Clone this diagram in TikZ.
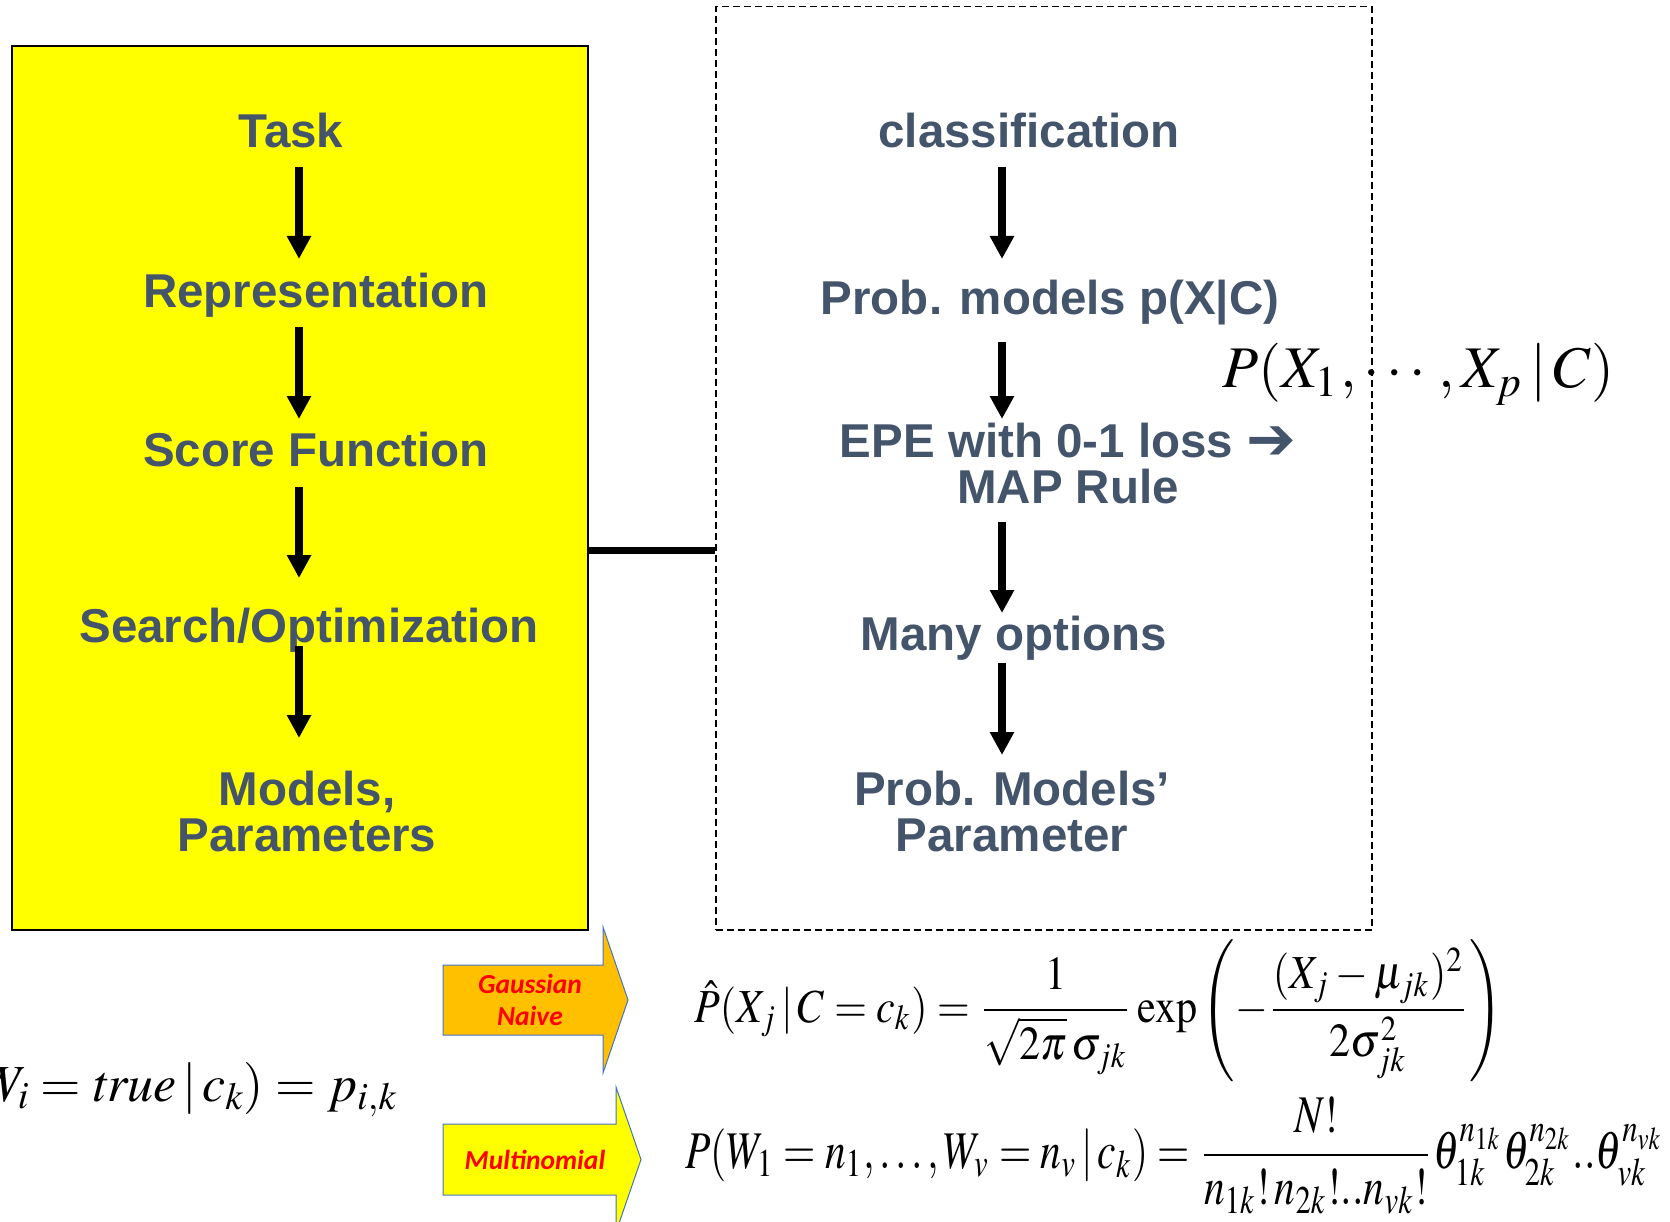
\documentclass[tikz,border=0pt]{standalone}
\usepackage{amsmath}
\usepackage{mathptmx}
\usepackage{fontspec}
\usepackage{tikz}
\usetikzlibrary{arrows.meta}
\newfontfamily\slidefont{Liberation Sans}
\newfontfamily\tagfont{Carlito}
\newfontfamily\dingfont{DejaVu Sans}
\definecolor{slateCol}{RGB}{68,84,106}
\definecolor{boxYel}{RGB}{255,255,0}
\definecolor{gaussCol}{RGB}{255,192,0}
\definecolor{edgeCol}{RGB}{68,114,196}
\definecolor{tagRed}{RGB}{255,0,0}
\tikzset{
  item/.style={font=\slidefont\bfseries\fontsize{47.5}{45.5}\selectfont,
               text=slateCol,inner sep=0pt,anchor=north},
  oneline/.style={item,text height=34pt,text depth=10pt},
  twoline/.style={item,align=center},
  flow/.style={-{Triangle[length=23pt,width=23pt]},line width=8pt},
  link/.style={line width=7pt},
  fat/.style={draw=edgeCol,line width=1pt,line join=miter},
  tag/.style={font=\tagfont\bfseries\itshape\fontsize{27.5}{32}\selectfont,
              text=tagRed,align=center,inner sep=0pt},
  formula/.style={inner sep=0pt},
}

\begin{document}
\begin{tikzpicture}[x=1pt,y=-1pt]
    \clip (0,0) rectangle (1670,1222);
    % the two frames
    \node[draw,line width=2pt,fill=boxYel,inner sep=0pt,anchor=north west,
          minimum width=576pt,minimum height=884pt] (ybox) at (11,45) {};
    \node[draw,line width=1.5pt,dash pattern=on 7pt off 4pt,inner sep=0pt,
          anchor=north west,minimum width=656pt,minimum height=923pt] (dbox) at (715,6) {};
    \coordinate (colL) at (299,0);
    \coordinate (colR) at (1002,0);
    \coordinate (lnk) at (0,550);

    % left column
    \node[oneline] (task) at (291,113) {Task};
    \node[oneline] (rep) at (316,273) {Representation};
    \node[oneline] (score) at (316,432) {Score Function};
    \node[oneline] (search) at (309,608) {Search/Optimization};
    \node[twoline] (models) at (307,771) {Models,\\Parameters};
    \draw[flow,shorten <=10pt,shorten >=14pt] (task.south -| colL) -- (rep.north -| colL);
    \draw[flow,shorten <=10pt,shorten >=13pt] (rep.south -| colL) -- (score.north -| colL);
    \draw[flow,shorten <=11pt,shorten >=30pt] (score.south -| colL) -- (search.north -| colL);
    \draw[flow,shorten <=-6pt,shorten >=33pt] (search.south -| colL) -- (models.north -| colL);

    % right column
    \node[oneline] (cls) at (1029,113) {classification};
    \node[oneline] (pxc) at (1050,280) {Prob. models p(X|C)};
    \node[twoline] (epe) at (1068,423)
      {EPE with 0-1 loss \raisebox{-2pt}{\scalebox{1.25}{\dingfont\bfseries ➔}}\\MAP Rule};
    \node[oneline] (many) at (1014,616) {Many options};
    \node[twoline] (param) at (1012,771) {Prob. Models’\\Parameter};
    \draw[flow,shorten <=10pt,shorten >=21pt] (cls.south -| colR) -- (pxc.north -| colR);
    \draw[flow,shorten <=18pt,shorten >=4pt] (pxc.south -| colR) -- (epe.north -| colR);
    \draw[flow,shorten <=18pt,shorten >=3pt] (epe.south -| colR) -- (many.north -| colR);
    \draw[flow,shorten <=3pt,shorten >=16pt] (many.south -| colR) -- (param.north -| colR);

    \draw[link] (ybox.east |- lnk) -- (dbox.west |- lnk);
    \node[formula,anchor=base west] (pjoint) at (1222,388)
      {\resizebox{392pt}{!}{$P(X_1,\cdots,X_p\,|\,C)$}};

    % block arrows and formulas
    \draw[fat,fill=gaussCol] (443,965) -- (603,965) -- (603,927) -- (628,1000)
      -- (603,1073) -- (603,1035) -- (443,1035) -- cycle;
    \node[tag] (gauss) at (530,1000) {Gaussian\\Naive};
    \draw[fat,fill=boxYel] (443,1124) -- (616,1124) -- (616,1087) -- (641,1159.5)
      -- (616,1232) -- (616,1195) -- (443,1195) -- cycle;
    \node[tag] (multi) at (535,1160) {Multinomial};

    \node[formula,anchor=north west] (pgauss) at (694,939)
      {\resizebox*{808pt}{142pt}{$\hat{P}(X_j\,|\,C=c_k)=\dfrac{1}{\sqrt{2\pi}\,\sigma_{jk}}
       \exp\left(-\dfrac{(X_j-\mu_{jk})^2}{2\sigma_{jk}^2}\right)$}};
    \node[formula,anchor=north west] (pmulti) at (685,1097)
      {\resizebox*{979pt}{117pt}{$P(W_1=n_1,\ldots,W_v=n_v\,|\,c_k)=\dfrac{N!}{n_{1k}!\,n_{2k}!..n_{vk}!}
       \theta_{1k}^{n_{1k}}\theta_{2k}^{n_{2k}}..\theta_{vk}^{n_{vk}}$}};
    \node[formula,anchor=base east] (pbern) at (397,1101)
      {\fontsize{52}{56}\selectfont$P(W_i=\mathit{true}\,|\,c_k)=p_{i,k}$};
\end{tikzpicture}
\end{document}
